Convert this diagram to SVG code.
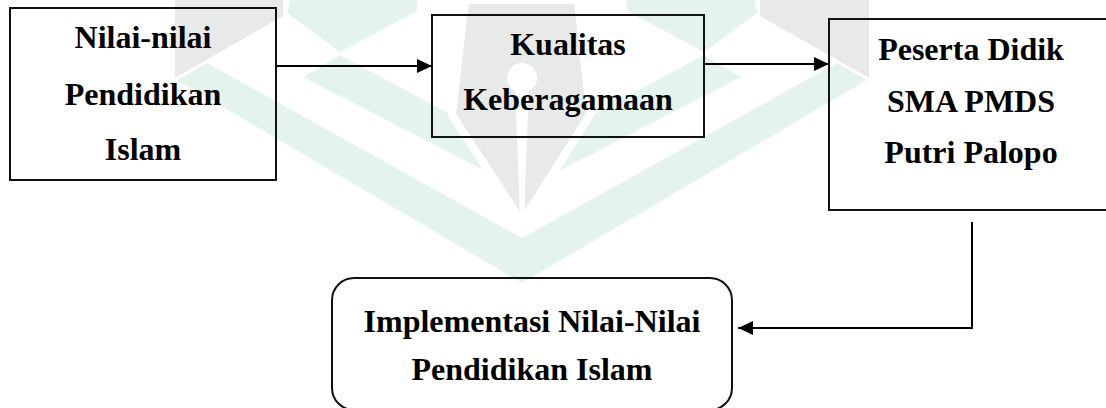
<svg xmlns="http://www.w3.org/2000/svg" width="1106" height="408" viewBox="0 0 1106 408">
<style>
.g{fill:#e4f4ec}
.gr{fill:#e7eae9}
.box{fill:none;stroke:#111;stroke-width:2}
.t{font-family:"Liberation Serif","Times New Roman",serif;font-weight:bold;font-size:32px;fill:#000;text-anchor:middle}
.c{fill:none;stroke:#000;stroke-width:2}
</style>
<defs>
<marker id="ah" markerUnits="userSpaceOnUse" markerWidth="16" markerHeight="14" refX="15" refY="7" orient="auto">
<path d="M0,0 L15,7 L0,14 z" fill="#000"/>
</marker>
</defs>
<rect width="1106" height="408" fill="#fff"/>
<g id="watermark">
<polygon class="gr" points="175,0 283,0 283,16 175,78"/>
<polygon class="gr" points="760,0 869,0 869,78 760,16"/>
<polygon class="g" points="290,0 287,13 340,52 417,11 417,0"/>
<polygon class="g" points="754,0 757,13 704,52 627,11 627,0"/>
<polygon class="g" points="177,80 207,63 522,238 837,63 867,80 522,283"/>
<polygon class="g" points="303,77 340,55 522,153 704,55 741,77 522,190"/>
<polygon class="gr" points="465,0 578,0 590,115 522,222 452,115" stroke="#fff" stroke-width="8" stroke-linejoin="miter"/>
<circle cx="522" cy="78" r="15" fill="#fff"/>
<polygon points="515,85 529,85 524,218 520,218" fill="#fff"/>
</g>
<g id="node1">
<rect class="box" x="10" y="8" width="266" height="172"/>
<text class="t" x="143" y="48">Nilai-nilai</text>
<text class="t" x="143" y="105">Pendidikan</text>
<text class="t" x="143" y="160">Islam</text>
</g>
<g id="node2">
<rect class="box" x="432" y="15" width="272" height="122"/>
<text class="t" x="568" y="55">Kualitas</text>
<text class="t" x="568" y="110">Keberagamaan</text>
</g>
<g id="node3">
<rect class="box" x="829" y="19" width="290" height="191"/>
<text class="t" x="971" y="60">Peserta Didik</text>
<text class="t" x="971" y="112">SMA PMDS</text>
<text class="t" x="971" y="163">Putri Palopo</text>
</g>
<g id="node4">
<rect class="box" x="332" y="278" width="400" height="132" rx="22" ry="22"/>
<text class="t" x="532" y="332">Implementasi Nilai-Nilai</text>
<text class="t" x="532" y="380">Pendidikan Islam</text>
</g>
<g id="connectors">
<path class="c" d="M276,66 H432" marker-end="url(#ah)"/>
<path class="c" d="M704,64 H829" marker-end="url(#ah)"/>
<path class="c" d="M972,222 V328 H738" marker-end="url(#ah)"/>
</g>
</svg>
